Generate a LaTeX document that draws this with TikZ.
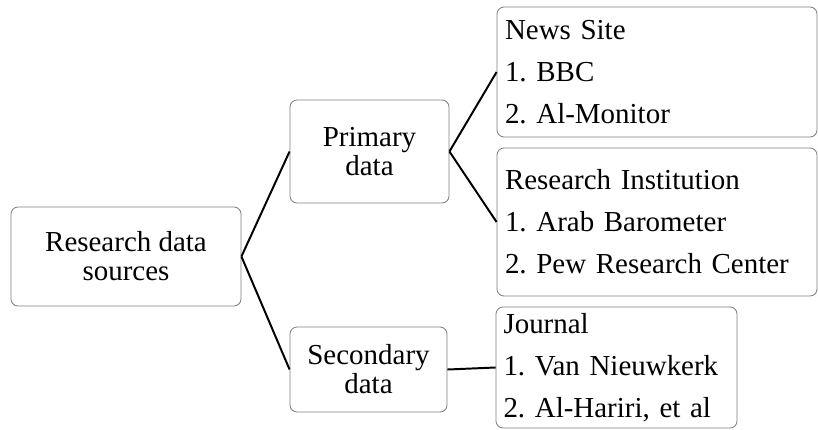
\documentclass[tikz,border=0pt]{standalone}
\usepackage{fontspec}
\setmainfont{Liberation Serif}
\usepackage{tikz}
\usetikzlibrary{positioning}
\frenchspacing

\tikzset{
  leftbox/.style={draw=gray, line width=0.6pt, rounded corners=5pt, align=center,
    inner sep=0pt, font=\fontsize{20.6}{20.6}\selectfont},
  listbox/.style={draw=gray, line width=0.6pt, rounded corners=5pt, align=left,
    inner sep=0pt, font=\fontsize{20.6}{29.9}\selectfont},
  link/.style={black, line width=1.4pt}
}

\begin{document}
\begin{tikzpicture}
\useasboundingbox (0,0) rectangle (20.45,10.725);
\node[leftbox, minimum width=5.75cm, minimum height=2.475cm] (sources) at (3.15,4.3125) {Research data\\sources};
\node[leftbox, minimum width=3.975cm, minimum height=2.575cm] (primary) at (9.2375,6.9375) {Primary\\data};
\node[leftbox, minimum width=3.925cm, minimum height=2.125cm] (secondary) at (9.2125,1.4875) {Secondary\\data};
\node[listbox, minimum width=8cm, minimum height=3.25cm, text width=7.6cm] (news) at (16.425,8.925) {News Site\\1. BBC\\2. Al-Monitor};
\node[listbox, minimum width=8cm, minimum height=3.7cm, text width=7.6cm] (institution) at (16.425,5.175) {Research Institution\\1. Arab Barometer\\2. Pew Research Center};
\node[listbox, minimum width=6.025cm, minimum height=3.025cm, text width=5.65cm] (journal) at (15.4125,1.5375) {Journal\\1. Van Nieuwkerk\\2. Al-Hariri, et al};
\draw[link] (sources.east) -- (primary.west);
\draw[link] (sources.east) -- (secondary.west);
\draw[link] (primary.east) -- (news.west);
\draw[link] (primary.east) -- (institution.west);
\draw[link] (secondary.east) -- (journal.west);
\end{tikzpicture}
\end{document}
